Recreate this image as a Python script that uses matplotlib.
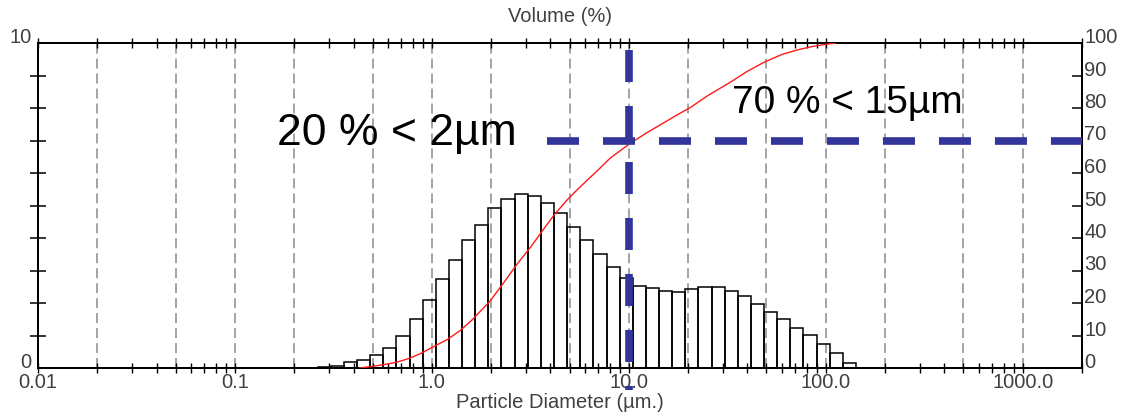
import matplotlib
matplotlib.use('Agg')
import numpy as np
import matplotlib.pyplot as plt
from matplotlib.ticker import FixedLocator, FixedFormatter, NullFormatter, LogLocator

plt.rcParams['font.family'] = ['Liberation Sans', 'DejaVu Sans']

# ---------------- data ----------------
bin_edges = [0.263, 0.307, 0.358, 0.417, 0.486, 0.567, 0.661, 0.770, 0.898,
             1.047, 1.221, 1.423, 1.660, 1.935, 2.256, 2.630, 3.067, 3.575,
             4.169, 4.860, 5.667, 6.607, 7.703, 8.981, 10.47, 12.21, 14.23,
             16.60, 19.35, 22.56, 26.30, 30.67, 35.75, 41.69, 48.60, 56.67,
             66.07, 77.03, 89.81, 104.7, 122.1, 142.3]
volume_pct = [0.03, 0.05, 0.18, 0.25, 0.40, 0.62, 0.97, 1.52, 2.08,
              2.74, 3.32, 3.94, 4.40, 4.92, 5.20, 5.35, 5.29, 5.08,
              4.77, 4.34, 3.94, 3.50, 3.10, 2.77, 2.52, 2.46, 2.36,
              2.35, 2.43, 2.49, 2.49, 2.37, 2.22, 1.97, 1.72, 1.51,
              1.23, 1.02, 0.74, 0.46, 0.15]

cum_diam = [0.43, 0.50, 0.56, 0.63, 0.69, 0.77, 0.88, 1.0, 1.2, 1.39, 1.6,
            1.97, 2.3, 2.71, 3.2, 3.67, 4.2, 4.86, 5.5, 6.15, 7.0, 8.05,
            10.2, 12.5, 15.0, 17.5, 20.6, 25.0, 32.9, 40.0, 48.3, 60.0,
            72.1, 85.0, 100.0, 112.0]
cum_pct = [0, 0.5, 1.0, 1.5, 2.1, 3.0, 4.5, 6.3, 8.8, 11.5, 14.8,
           20.5, 26, 32, 37.5, 42.5, 47.3, 51.7, 55.0, 57.8, 61.0, 64.6,
           69.2, 72.6, 75.4, 77.8, 80.2, 83.7, 88.0, 91.3, 94.0, 96.5,
           97.9, 98.9, 99.6, 100]

x_major = [0.01, 0.1, 1, 10, 100, 1000]
x_major_labels = ['0.01', '0.1', '1.0', '10.0', '100.0', '1000.0']
grid_x = [0.02, 0.05, 0.1, 0.2, 0.5, 1, 2, 5, 10, 20, 50, 100, 200, 500, 1000]
left_ticks = list(range(0, 11))
left_labels = ['0'] + [''] * 9 + ['10']
right_ticks = list(range(0, 101, 10))

marker_d = 10          # vertical marker (µm)
marker_pct = 70        # horizontal marker (%)
hline_start = 3.85
vline_range = [97.8, -6.8]

# ---------------- figure ----------------
fig = plt.figure(figsize=(11.25, 4.16), dpi=100)
W, H = 1125, 416
ax = fig.add_axes([38 / W, (H - 368) / H, (1082 - 38) / W, (368 - 43) / H])
ax.set_xscale('log')
ax.set_xlim(0.01, 2000)
ax.set_ylim(0, 10)

gray = '#404040'

# grid
ax.vlines(grid_x, 0, 10, colors='#8a8a8a', linewidth=1.1,
          linestyles=[(0, (6.5, 3.3))], zorder=1)

# histogram
edges = np.array(bin_edges)
ax.bar(edges[:-1], volume_pct, width=np.diff(edges), align='edge',
       facecolor='none', edgecolor='black', linewidth=1.1, zorder=2)

# x axis ticks
ax.xaxis.set_major_locator(FixedLocator(x_major))
ax.xaxis.set_major_formatter(FixedFormatter(x_major_labels))
ax.xaxis.set_minor_locator(LogLocator(base=10, subs=np.arange(2, 10)))
ax.xaxis.set_minor_formatter(NullFormatter())
ax.tick_params(axis='x', which='both', direction='inout', length=7, width=1,
               top=True, bottom=True, labelsize=14.5, labelcolor=gray, pad=0)

# left axis
ax.yaxis.set_major_locator(FixedLocator(left_ticks))
ax.yaxis.set_major_formatter(FixedFormatter(left_labels))
ax.tick_params(axis='y', direction='inout', length=11.5, width=1.1,
               labelsize=14.5, labelcolor=gray, pad=-1)

# right axis
ax2 = ax.twinx()
ax2.set_ylim(0, 100)
ax2.yaxis.set_major_locator(FixedLocator(right_ticks))
ax2.tick_params(axis='y', direction='in', length=7, width=1.1,
                labelsize=14.5, labelcolor=gray, pad=1.5)

for a in (ax, ax2):
    for s in a.spines.values():
        s.set_linewidth(1.4)

# cumulative curve
ax2.plot(cum_diam, cum_pct, color='#ff1a1a', linewidth=1.0, zorder=3)

# blue dashed markers
blue = '#33359a'
ax2.plot([marker_d, marker_d], vline_range, color=blue, linewidth=5.5,
         linestyle=(0, (4.19, 3.14)), dash_capstyle='butt', clip_on=False, zorder=4)
ax2.plot([hline_start, 2000], [marker_pct, marker_pct], color=blue, linewidth=5.5,
         linestyle=(0, (4.19, 3.14)), dash_capstyle='butt', clip_on=False, zorder=4)

# annotations
ax2.text(0.164, 68.6, '20 % < 2µm', fontsize=32, ha='left', va='baseline',
         color='black', zorder=5)
ax2.text(33.6, 78.5, '70 % < 15µm', fontsize=28, ha='left', va='baseline',
         color='black', zorder=5)

# axis titles
fig.text(560 / W, 1 - 17 / H, 'Volume (%)', ha='center', va='center',
         fontsize=14.5, color=gray)
fig.text(560 / W, 1 - 403 / H, 'Particle Diameter (µm.)', ha='center',
         va='center', fontsize=14.5, color=gray)

for lbl in ax.get_yticklabels():
    lbl.set_verticalalignment('baseline')
for lbl in ax2.get_yticklabels():
    lbl.set_verticalalignment('baseline')

# no tick marks at the 0 and 10 ends of the left axis (labels only)
lticks = ax.yaxis.get_major_ticks()
for t in (lticks[0], lticks[-1]):
    t.tick1line.set_visible(False)

fig.savefig('out.png', dpi=100, facecolor='white')
